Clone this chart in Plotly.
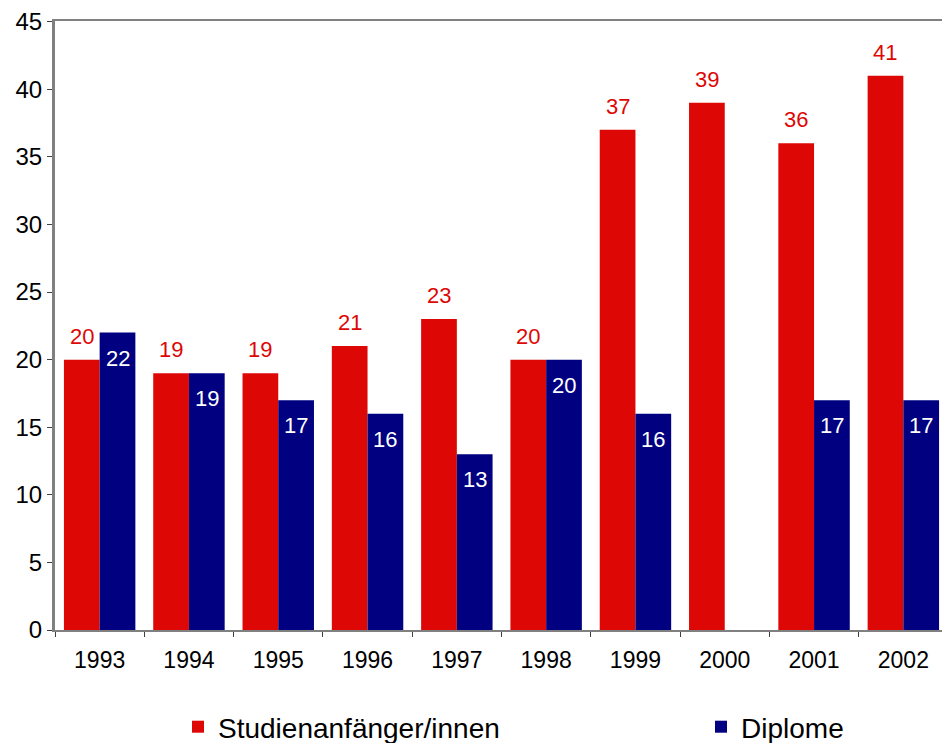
import plotly.graph_objects as go

years = ["1993", "1994", "1995", "1996", "1997", "1998", "1999", "2000", "2001", "2002"]
studienanfaenger = [20, 19, 19, 21, 23, 20, 37, 39, 36, 41]
diplome = [22, 19, 17, 16, 13, 20, 16, None, 17, 17]
y_ticks = [0, 5, 10, 15, 20, 25, 30, 35, 40, 45]

RED = "#DD0806"
BLUE = "#000080"
FONT = "Liberation Sans, Arial, sans-serif"

# page body has an 8px default margin, so the figure is sized/offset to compensate
W, H = 942, 735
ML, MR, MT, MB = 47, 2, 13, 113
BARGAP = 0.2
cat_w = (W - ML - MR) / len(years)
half_bar = cat_w * (1 - BARGAP) / 4  # centre offset of each bar in a pair

fig = go.Figure()
fig.add_trace(go.Bar(
    x=years, y=studienanfaenger, name="Studienanfänger/innen",
    marker=dict(color=RED, line=dict(width=0)),
    legend="legend",
))
fig.add_trace(go.Bar(
    x=years, y=diplome, name="Diplome",
    marker=dict(color=BLUE, line=dict(width=0)),
    legend="legend2",
))

# value labels: x is the category serial index on the category axis
annotations = []
for i, v in enumerate(studienanfaenger):
    annotations.append(dict(
        x=i, y=v, xref="x", yref="y", text=str(v), showarrow=False,
        xshift=-half_bar, yshift=9, yanchor="bottom", xanchor="center",
        font=dict(color=RED, size=22, family=FONT),
    ))
for i, v in enumerate(diplome):
    if v is None:
        continue
    annotations.append(dict(
        x=i, y=v, xref="x", yref="y", text=str(v), showarrow=False,
        xshift=half_bar, yshift=-11, yanchor="top", xanchor="center",
        font=dict(color="white", size=22, family=FONT),
    ))

legend_common = dict(
    orientation="h", yanchor="middle", xanchor="left",
    xref="container", yref="container",
    font=dict(size=28, family=FONT, color="black"),
    bgcolor="rgba(0,0,0,0)", borderwidth=0,
)

fig.update_layout(
    width=W, height=H,
    margin=dict(l=ML, r=MR, t=MT, b=MB, autoexpand=False),
    barmode="group", bargap=BARGAP, bargroupgap=0,
    plot_bgcolor="white", paper_bgcolor="white",
    font=dict(family=FONT, size=23, color="black"),
    showlegend=True,
    legend=dict(x=170 / W, y=1 - 719 / H, **legend_common),
    legend2=dict(x=693 / W, y=1 - 719 / H, **legend_common),
    annotations=annotations,
)
fig.update_xaxes(
    type="category",
    showline=True, linecolor="#808080", linewidth=2, mirror=True,
    ticks="outside", tickson="boundaries", ticklen=5, tickcolor="#404040",
    showgrid=False, tickfont=dict(size=23, color="black"),
    ticklabelstandoff=8,
)
fig.update_yaxes(
    range=[0, 45.05], tickmode="array", tickvals=y_ticks,
    showline=True, linecolor="#808080", linewidth=3, mirror=True,
    ticks="outside", ticklen=5, tickcolor="#404040",
    showgrid=False, zeroline=False, tickfont=dict(size=24, color="black"),
)

fig.write_html("out.html")
